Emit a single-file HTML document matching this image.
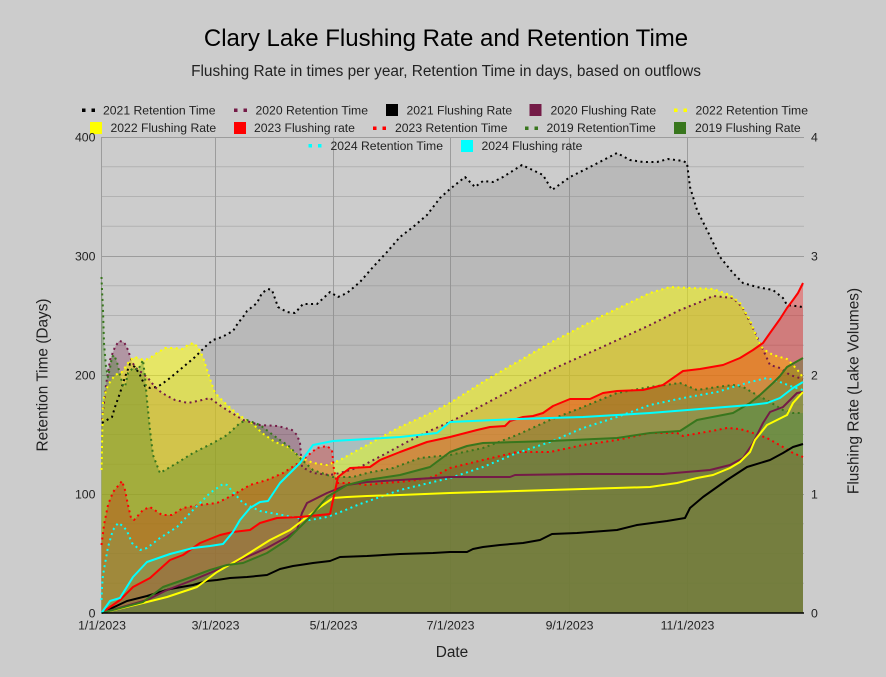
<!DOCTYPE html>
<html><head><meta charset="utf-8"><style>
html,body{margin:0;padding:0;background:#cccccc;}
svg{display:block;font-family:"Liberation Sans",Arial,sans-serif;}
</style></head><body>
<svg width="886" height="677" viewBox="0 0 886 677" xmlns="http://www.w3.org/2000/svg">
<rect x="0" y="0" width="886" height="677" fill="#cccccc"/>
<!-- grid -->
<g stroke="#b2b2b2" stroke-width="1">
<line x1="101.5" y1="166.75" x2="804" y2="166.75"/><line x1="101.5" y1="196.5" x2="804" y2="196.5"/><line x1="101.5" y1="226.25" x2="804" y2="226.25"/>
<line x1="101.5" y1="285.75" x2="804" y2="285.75"/><line x1="101.5" y1="315.5" x2="804" y2="315.5"/><line x1="101.5" y1="345.25" x2="804" y2="345.25"/>
<line x1="101.5" y1="404.75" x2="804" y2="404.75"/><line x1="101.5" y1="434.5" x2="804" y2="434.5"/><line x1="101.5" y1="464.25" x2="804" y2="464.25"/>
<line x1="101.5" y1="523.75" x2="804" y2="523.75"/><line x1="101.5" y1="553.5" x2="804" y2="553.5"/><line x1="101.5" y1="583.25" x2="804" y2="583.25"/>
</g>
<g stroke="#9c9c9c" stroke-width="1">
<line x1="101.5" y1="137.5" x2="804" y2="137.5"/><line x1="101.5" y1="256.5" x2="804" y2="256.5"/><line x1="101.5" y1="375.5" x2="804" y2="375.5"/><line x1="101.5" y1="494.5" x2="804" y2="494.5"/>
<line x1="101.5" y1="137" x2="101.5" y2="613"/><line x1="215.5" y1="137" x2="215.5" y2="613"/><line x1="333.5" y1="137" x2="333.5" y2="613"/><line x1="450.5" y1="137" x2="450.5" y2="613"/><line x1="569.5" y1="137" x2="569.5" y2="613"/><line x1="687.5" y1="137" x2="687.5" y2="613"/>
</g>

<!-- fills -->
<g stroke="none">
<polygon fill="#808080" fill-opacity="0.25" points="102,423 107,420 112,417 115,407 120,393 125,377 130,364 135,367 140,375 145,386 150,388 157,387 162,384 170,378 182,368 195,357 201,351 207,345 213,340 222,337 233,331 238,323 243,317 247,311 257,303 262,293 268,289 272,290 278,307 287,312 295,313 303,304 317,304 330,292 338,297 347,293 360,282 373,267 387,252 400,237 413,227 427,215 440,198 450,189 465,177 475,187 483,181 493,182 503,177 522,165 543,175 552,190 570,177 590,167 617,153 630,160 643,162 657,162 668,159 683,161 687,163 690,187 697,210 707,230 720,257 733,273 743,283 757,287 773,290 783,298 787,305 803,307 803,613 102,613"/>
<polygon fill="#741b47" fill-opacity="0.3" points="102,420 106,385 110,360 115,347 119,341 124,342 128,350 132,362 136,368 141,372 148,378 155,387 162,393 175,400 188,403 202,400 210,398 218,404 227,410 232,413 243,420 260,425 278,426 292,430 297,435 300,443 302,467 313,473 330,475 340,473 360,467 383,455 407,442 427,432 450,422 483,405 517,387 553,369 600,348 650,325 680,310 700,302 713,296 733,298 742,307 750,322 760,343 770,365 780,368 790,375 803,379 803,613 102,613"/>
<polygon fill="#ffff00" fill-opacity="0.5" points="101.5,470 103,400 108,385 115,375 122,372 130,360 135,357 140,359 145,360 150,358 157,353 165,348 175,348 182,349 188,345 193,343 198,347 203,357 208,373 215,393 225,403 235,412 242,417 252,423 262,433 275,442 288,447 300,457 313,463 327,465 340,460 367,445 400,427 433,412 450,403 483,382 500,372 550,343 600,317 650,293 670,287 690,288 713,289 730,295 740,303 750,320 757,338 763,349 773,355 787,359 793,365 800,373 803,378 803,613 101.5,613"/>
<polygon fill="#ff0000" fill-opacity="0.33" points="101.5,613 120,600 133,587 150,578 170,560 183,555 200,543 220,535 233,532 250,530 260,523 277,518 300,517 330,514 333,500 338,477 350,468 370,467 380,460 400,452 427,442 450,437 477,430 490,427 505,426 510,421 523,417 533,416 543,413 553,406 570,399 590,399 603,393 617,391 643,390 663,385 683,371 700,369 723,365 740,358 753,350 763,343 770,333 780,319 787,308 793,300 798,293 803,283 803,613"/>
<polygon fill="#ff0000" fill-opacity="0.33" points="101.5,545 104,525 108,505 113,492 118,486 122,481 125,490 128,505 131,518 134,520 143,510 150,507 162,515 172,515 183,508 200,505 217,503 233,495 250,485 267,480 283,473 300,462 317,448 327,446 332,450 334,470 337,483 350,483 367,485 383,483 400,482 417,480 433,477 450,468 483,460 517,452 550,452 583,445 617,440 650,433 677,433 683,436 700,433 717,430 727,428 740,429 750,432 767,438 783,447 793,453 803,457 803,613 101.5,613"/>
<polygon fill="#38761d" fill-opacity="0.3" points="101.5,277 102,290 103,310 104,343 106,367 108,377 110,368 112,357 114,355 117,362 120,375 123,385 125,387 128,373 133,368 138,370 143,360 145,377 147,400 150,430 153,455 160,473 177,463 193,453 213,443 227,435 240,423 247,420 260,425 273,435 290,447 300,458 313,470 333,477 353,477 367,473 393,468 420,458 450,455 483,448 517,435 550,420 583,407 617,393 650,387 680,383 697,390 717,387 733,385 743,387 757,395 770,402 783,410 793,413 803,413 803,613 101.5,613"/>
<polygon fill="#38761d" fill-opacity="0.35" points="101.5,613 143,602 163,587 183,580 210,570 227,565 243,563 267,553 287,540 310,517 327,497 347,485 367,480 400,475 430,467 450,452 467,446 483,443 517,442 550,441 617,438 650,433 680,431 697,420 733,413 750,403 760,395 773,383 780,376 787,367 803,358 803,613"/>
<polygon fill="#00ffff" fill-opacity="0.08" points="101.5,600 102,587 103,575 108,547 113,530 118,523 123,526 127,531 132,543 140,550 147,548 160,538 177,527 193,510 210,493 223,484 227,485 233,492 243,503 260,511 277,514 293,517 310,520 327,517 343,511 360,504 400,490 433,482 450,478 483,467 517,453 550,442 583,428 617,417 650,405 683,398 717,392 733,387 750,382 767,378 780,382 793,387 803,390 803,613 101.5,613"/>
<polygon fill="#00ffff" fill-opacity="0.08" points="101.5,613 110,601 120,598 133,577 147,562 170,554 193,548 210,546 223,544 233,532 240,520 250,508 260,502 268,501 280,483 300,463 313,445 333,441 367,439 400,437 437,433 450,422 517,419 583,417 650,413 700,409 750,405 767,403 780,398 793,388 803,382 803,613"/>
</g>

<!-- lines -->
<g fill="none" stroke-width="2" stroke-linejoin="round">
<g stroke-dasharray="2 3.5">
<polyline stroke="#000000" points="102,423 107,420 112,417 115,407 120,393 125,377 130,364 135,367 140,375 145,386 150,388 157,387 162,384 170,378 182,368 195,357 201,351 207,345 213,340 222,337 233,331 238,323 243,317 247,311 257,303 262,293 268,289 272,290 278,307 287,312 295,313 303,304 317,304 330,292 338,297 347,293 360,282 373,267 387,252 400,237 413,227 427,215 440,198 450,189 465,177 475,187 483,181 493,182 503,177 522,165 543,175 552,190 570,177 590,167 617,153 630,160 643,162 657,162 668,159 683,161 687,163 690,187 697,210 707,230 720,257 733,273 743,283 757,287 773,290 783,298 787,305 803,307"/>
<polyline stroke="#741b47" points="102,420 106,385 110,360 115,347 119,341 124,342 128,350 132,362 136,368 141,372 148,378 155,387 162,393 175,400 188,403 202,400 210,398 218,404 227,410 232,413 243,420 260,425 278,426 292,430 297,435 300,443 302,467 313,473 330,475 340,473 360,467 383,455 407,442 427,432 450,422 483,405 517,387 553,369 600,348 650,325 680,310 700,302 713,296 733,298 742,307 750,322 760,343 770,365 780,368 790,375 803,379"/>
<polyline stroke="#ffff00" points="101.5,470 103,400 108,385 115,375 122,372 130,360 135,357 140,359 145,360 150,358 157,353 165,348 175,348 182,349 188,345 193,343 198,347 203,357 208,373 215,393 225,403 235,412 242,417 252,423 262,433 275,442 288,447 300,457 313,463 327,465 340,460 367,445 400,427 433,412 450,403 483,382 500,372 550,343 600,317 650,293 670,287 690,288 713,289 730,295 740,303 750,320 757,338 763,349 773,355 787,359 793,365 800,373 803,378"/>
<polyline stroke="#ff0000" points="101.5,545 104,525 108,505 113,492 118,486 122,481 125,490 128,505 131,518 134,520 143,510 150,507 162,515 172,515 183,508 200,505 217,503 233,495 250,485 267,480 283,473 300,462 317,448 327,446 332,450 334,470 337,483 350,483 367,485 383,483 400,482 417,480 433,477 450,468 483,460 517,452 550,452 583,445 617,440 650,433 677,433 683,436 700,433 717,430 727,428 740,429 750,432 767,438 783,447 793,453 803,457"/>
<polyline stroke="#38761d" points="101.5,277 102,290 103,310 104,343 106,367 108,377 110,368 112,357 114,355 117,362 120,375 123,385 125,387 128,373 133,368 138,370 143,360 145,377 147,400 150,430 153,455 160,473 177,463 193,453 213,443 227,435 240,423 247,420 260,425 273,435 290,447 300,458 313,470 333,477 353,477 367,473 393,468 420,458 450,455 483,448 517,435 550,420 583,407 617,393 650,387 680,383 697,390 717,387 733,385 743,387 757,395 770,402 783,410 793,413 803,413"/>
<polyline stroke="#00ffff" points="101.5,600 102,587 103,575 108,547 113,530 118,523 123,526 127,531 132,543 140,550 147,548 160,538 177,527 193,510 210,493 223,484 227,485 233,492 243,503 260,511 277,514 293,517 310,520 327,517 343,511 360,504 400,490 433,482 450,478 483,467 517,453 550,442 583,428 617,417 650,405 683,398 717,392 733,387 750,382 767,378 780,382 793,387 803,390"/>
</g>
<polyline stroke="#000000" points="101.5,613 127,601 147,596 170,589 193,585 207,581 217,580 230,578 247,577 267,575 280,569 293,566 300,565 313,563 330,561 340,557 367,556 400,554 433,553 450,552 467,552 473,549 483,547 500,545 523,543 540,540 552,534 577,533 617,530 637,525 667,521 685,518 690,508 703,497 727,480 747,467 770,460 783,453 793,447 803,444"/>
<polyline stroke="#741b47" points="101.5,613 147,600 167,590 193,580 217,570 240,560 267,548 287,537 297,530 302,513 307,503 327,493 347,485 367,482 400,480 433,478 450,477 510,477 515,475 583,474 663,474 710,470 730,465 743,458 753,443 763,423 770,412 783,407 797,393 803,392"/>
<polyline stroke="#ffff00" points="101.5,613 143,603 167,597 197,587 217,572 243,557 270,540 290,530 307,517 320,507 333,498 347,497 367,496 400,495 450,493 550,490 650,487 677,483 697,478 713,475 730,468 740,462 750,452 755,440 767,425 787,415 793,403 803,392"/>
<polyline stroke="#ff0000" points="101.5,613 120,600 133,587 150,578 170,560 183,555 200,543 220,535 233,532 250,530 260,523 277,518 300,517 330,514 333,500 338,477 350,468 370,467 380,460 400,452 427,442 450,437 477,430 490,427 505,426 510,421 523,417 533,416 543,413 553,406 570,399 590,399 603,393 617,391 643,390 663,385 683,371 700,369 723,365 740,358 753,350 763,343 770,333 780,319 787,308 793,300 798,293 803,283"/>
<polyline stroke="#38761d" points="101.5,613 143,602 163,587 183,580 210,570 227,565 243,563 267,553 287,540 310,517 327,497 347,485 367,480 400,475 430,467 450,452 467,446 483,443 517,442 550,441 617,438 650,433 680,431 697,420 733,413 750,403 760,395 773,383 780,376 787,367 803,358"/>
<polyline stroke="#00ffff" points="101.5,613 110,601 120,598 133,577 147,562 170,554 193,548 210,546 223,544 233,532 240,520 250,508 260,502 268,501 280,483 300,463 313,445 333,441 367,439 400,437 437,433 450,422 517,419 583,417 650,413 700,409 750,405 767,403 780,398 793,388 803,382"/>
</g>

<line x1="101.5" y1="613" x2="804" y2="613" stroke="#000" stroke-width="1.5"/>

<text x="446" y="46" font-size="24" text-anchor="middle" fill="#000">Clary Lake Flushing Rate and Retention Time</text>
<text x="446" y="76" font-size="15.4" text-anchor="middle" fill="#222">Flushing Rate in times per year, Retention Time in days, based on outflows</text>

<g font-size="12.2" fill="#222">
<rect x="82" y="108.5" width="3.5" height="3.5" fill="#000"/><rect x="91.5" y="108.5" width="3.5" height="3.5" fill="#000"/>
<text x="103" y="114.5">2021 Retention Time</text>
<rect x="234" y="108.5" width="3.5" height="3.5" fill="#741b47"/><rect x="243.5" y="108.5" width="3.5" height="3.5" fill="#741b47"/>
<text x="255.5" y="114.5">2020 Retention Time</text>
<rect x="386" y="104" width="12" height="12" fill="#000"/>
<text x="406.5" y="114.5">2021 Flushing Rate</text>
<rect x="529.5" y="104" width="12" height="12" fill="#741b47"/>
<text x="550.5" y="114.5">2020 Flushing Rate</text>
<rect x="674" y="108.5" width="3.5" height="3.5" fill="#ffff00"/><rect x="683.5" y="108.5" width="3.5" height="3.5" fill="#ffff00"/>
<text x="695.5" y="114.5">2022 Retention Time</text>

<rect x="90" y="122" width="12" height="12" fill="#ffff00"/>
<text x="110.5" y="132.2">2022 Flushing Rate</text>
<rect x="234" y="122" width="12" height="12" fill="#ff0000"/>
<text x="254" y="132.2">2023 Flushing rate</text>
<rect x="373" y="126.5" width="3.5" height="3.5" fill="#ff0000"/><rect x="382.5" y="126.5" width="3.5" height="3.5" fill="#ff0000"/>
<text x="395" y="132.2">2023 Retention Time</text>
<rect x="525" y="126.5" width="3.5" height="3.5" fill="#38761d"/><rect x="534.5" y="126.5" width="3.5" height="3.5" fill="#38761d"/>
<text x="546.5" y="132.2">2019 RetentionTime</text>
<rect x="674" y="122" width="12" height="12" fill="#38761d"/>
<text x="695" y="132.2">2019 Flushing Rate</text>

<rect x="308.5" y="144" width="3.5" height="3.5" fill="#00ffff"/><rect x="318" y="144" width="3.5" height="3.5" fill="#00ffff"/>
<text x="330.5" y="150.2">2024 Retention Time</text>
<rect x="461" y="140" width="12" height="12" fill="#00ffff"/>
<text x="481.5" y="150.2">2024 Flushing rate</text>
</g>

<g font-size="12.3" fill="#222">
<g text-anchor="end">
<text x="95.5" y="141.5">400</text>
<text x="95.5" y="260.5">300</text>
<text x="95.5" y="379.5">200</text>
<text x="95.5" y="498.5">100</text>
<text x="95.5" y="617.5">0</text>
</g>
<text x="811" y="141.5">4</text>
<text x="811" y="260.5">3</text>
<text x="811" y="379.5">2</text>
<text x="811" y="498.5">1</text>
<text x="811" y="617.5">0</text>
<g text-anchor="middle">
<text x="102" y="629.5">1/1/2023</text>
<text x="215.5" y="629.5">3/1/2023</text>
<text x="333.5" y="629.5">5/1/2023</text>
<text x="450.5" y="629.5">7/1/2023</text>
<text x="569.5" y="629.5">9/1/2023</text>
<text x="687.5" y="629.5">11/1/2023</text>
</g>
</g>

<g font-size="15.4" fill="#222" text-anchor="middle">
<text x="452" y="657">Date</text>
<text transform="translate(47.5,375) rotate(-90)">Retention Time (Days)</text>
<text transform="translate(858.5,391) rotate(-90)">Flushing Rate (Lake Volumes)</text>
</g>
</svg>
</body></html>
